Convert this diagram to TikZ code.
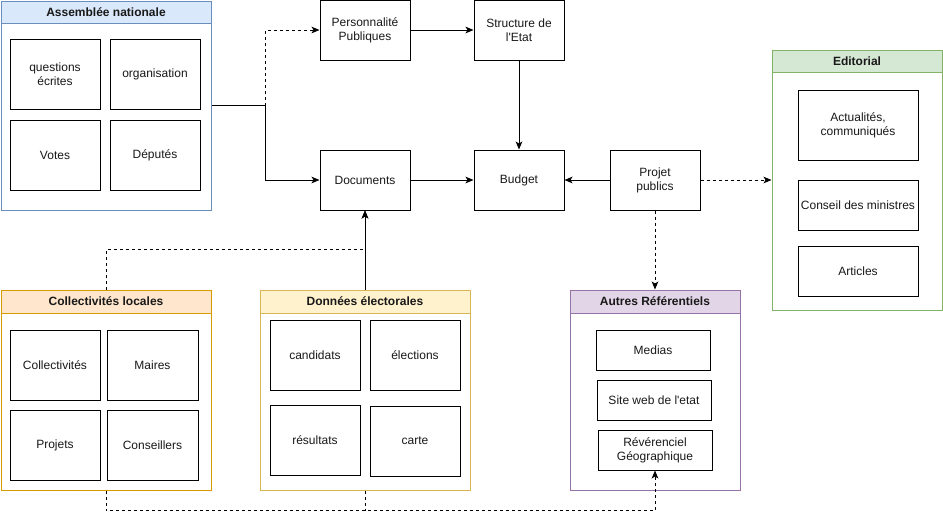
\documentclass[tikz,border=0pt]{standalone}
\usepackage{fontspec}
\setmainfont{Liberation Sans}
\usetikzlibrary{arrows.meta}
\definecolor{blueF}{HTML}{DAE8FC}\definecolor{blueS}{HTML}{6C8EBF}
\definecolor{greenF}{HTML}{D5E8D4}\definecolor{greenS}{HTML}{82B366}
\definecolor{orangeF}{HTML}{FFE6CC}\definecolor{orangeS}{HTML}{D79B00}
\definecolor{yellowF}{HTML}{FFF2CC}\definecolor{yellowS}{HTML}{D6B656}
\definecolor{purpleF}{HTML}{E1D5E7}\definecolor{purpleS}{HTML}{9673A6}
\begin{document}
\begin{tikzpicture}[x=0.75pt,y=-0.75pt,
  bx/.style 2 args={minimum width=#1*0.75pt, minimum height=#2*0.75pt},
  base/.style={rectangle, inner sep=1pt, align=center, font=\fontsize{9}{10.5}\selectfont, text=black!90},
  box/.style={base, draw=black, line width=0.75pt, fill=white},
  cont/.style={rectangle, draw=#1, line width=0.75pt, fill=white, inner sep=0pt},
  head/.style={base, draw=#1S, fill=#1F, line width=0.75pt, font=\bfseries\fontsize{9}{10.5}\selectfont},
  arr/.style={line width=0.75pt, -{Stealth[length=6pt,width=5pt,inset=1.5pt]}},
  ln/.style={line width=0.75pt},
  dsh/.style={dash pattern=on 2.25pt off 2.25pt}
]
\useasboundingbox (0,0) rectangle (943,519);

% Assemblee nationale
\node[cont=blueS, bx={210}{209}] (an) at (106,105.5) {};
\node[head=blue, bx={210}{22}] (anh) at (106,12) {Assemblée nationale};
\node[box, bx={90}{70}] (qe) at (55,74) {questions\\écrites};
\node[box, bx={90}{70}] (org) at (155,74) {organisation};
\node[box, bx={90}{70}] (vot) at (55,155) {Votes};
\node[box, bx={90}{70}] (dep) at (155,155) {Députés};

% Top middle
\node[box, bx={90}{60}] (pers) at (365,30) {Personnalité\\Publiques};
\node[box, bx={90}{60}] (st) at (519,30) {Structure de\\l\textquotesingle Etat};
\node[box, bx={90}{60}] (doc) at (365,180) {Documents};
\node[box, bx={90}{60}] (bud) at (519,180) {Budget};
\node[box, bx={90}{60}] (pp) at (655,180) {Projet\\publics};

% Editorial
\node[cont=greenS, bx={170}{260}] (ed) at (857,180) {};
\node[head=green, bx={170}{22}] (edh) at (857,61) {Editorial};
\node[box, bx={120}{70}] (act) at (858,125) {Actualités,\\communiqués};
\node[box, bx={120}{50}] (cdm) at (858,205) {Conseil des ministres};
\node[box, bx={120}{50}] (art) at (858,271) {Articles};

% Collectivites locales
\node[cont=orangeS, bx={210}{200}] (cl) at (106,390) {};
\node[head=orange, bx={210}{23}] (clh) at (106,301.5) {Collectivités locales};
\node[box, bx={90}{70}] (col) at (55,365) {Collectivités};
\node[box, bx={91}{70}] (mai) at (152.5,365) {Maires};
\node[box, bx={90}{70}] (pro) at (55,445) {Projets};
\node[box, bx={91}{70}] (cons) at (152.5,445) {Conseillers};

% Donnees electorales
\node[cont=yellowS, bx={210}{200}] (de) at (365,390) {};
\node[head=yellow, bx={210}{23}] (deh) at (365,301.5) {Données électorales};
\node[box, bx={90}{70}] (cand) at (315,355) {candidats};
\node[box, bx={90}{70}] (elec) at (415,355) {élections};
\node[box, bx={90}{70}] (res) at (315,440) {résultats};
\node[box, bx={90}{70}] (cart) at (415,441) {carte};

% Autres referentiels
\node[cont=purpleS, bx={170}{200}] (ar) at (655,390) {};
\node[head=purple, bx={170}{23}] (arh) at (655,301.5) {Autres Référentiels};
\node[box, bx={114}{40}] (med) at (653,350) {Medias};
\node[box, bx={114}{40}] (web) at (654,400) {Site web de l\textquotesingle etat};
\node[box, bx={114}{40}] (geo) at (655,450) {Révérenciel\\Géographique};

% Connectors
\draw[arr] (an.east) -- ++(54,0) |- (doc.west);
\draw[arr,dsh] (an.east) ++(54,0) |- (pers.west);
\draw[arr] (pers.east) -- (st.west);
\draw[arr] (st.south) -- (bud.north);
\draw[arr] (doc.east) -- (bud.west);
\draw[arr] (pp.west) -- (bud.east);
\draw[arr,dsh] (pp.east) -- (ed.west);
\draw[arr,dsh] (pp.south) -- (arh.north);
\draw[arr] (deh.north) -- (doc.south);
\draw[arr,dsh] (clh.north) -- ++(0,-40) -| (doc.south);
\draw[arr,dsh] (cl.south) -- ++(0,20) -| (geo.south);
\draw[ln,dsh] (de.south) -- ++(0,20);
\end{tikzpicture}
\end{document}
